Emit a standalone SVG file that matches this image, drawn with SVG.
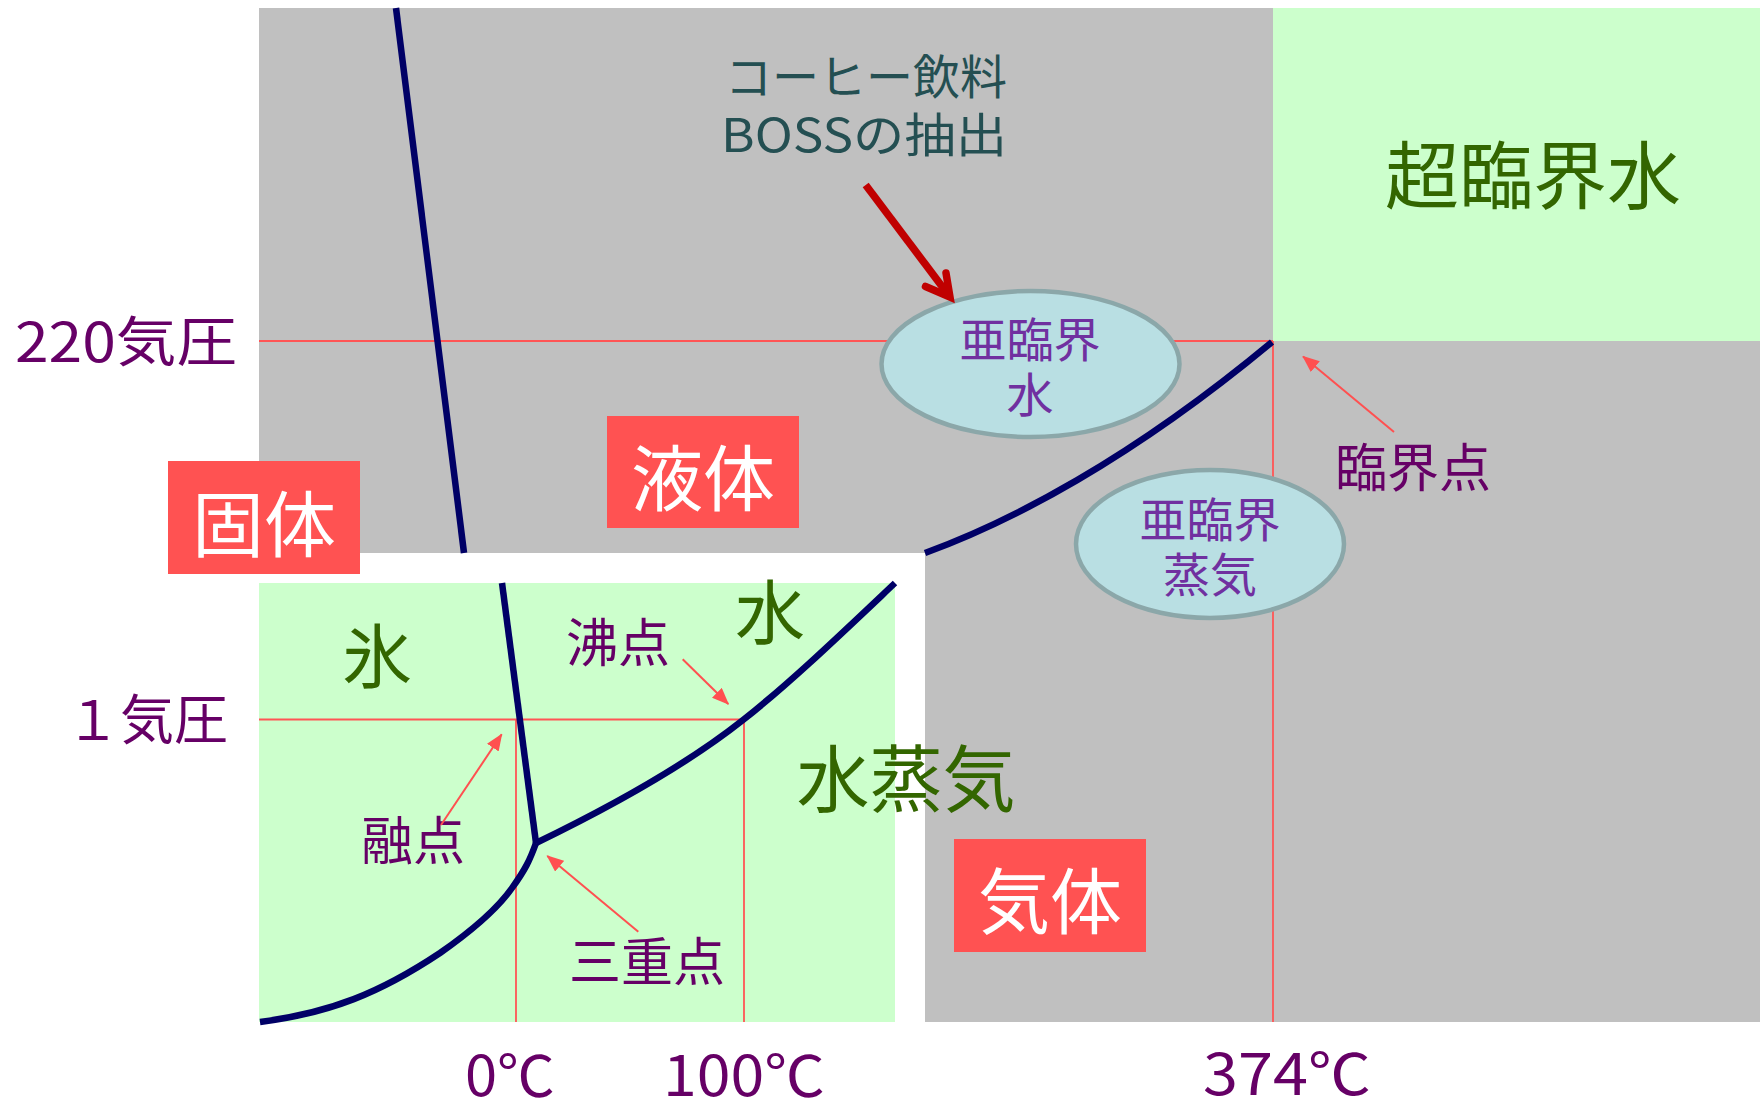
<svg xmlns="http://www.w3.org/2000/svg" width="1760" height="1109" viewBox="0 0 1760 1109">
<defs>
<style>
text{font-family:"Noto Sans CJK JP","Noto Sans",sans-serif;}
.axis{fill:#660066;}
.tag{fill:#660066;font-size:52px;text-anchor:middle;}
.phase{fill:#336600;text-anchor:middle;}
.box{fill:#FF5252;}
.boxt{fill:#FFFFFF;font-size:72px;text-anchor:middle;}
.ell{fill:#B9DFE3;stroke:#8BA7A9;stroke-width:4.5;}
.ellt{fill:#7030A0;font-size:47px;text-anchor:middle;}
.guide{stroke:#FF5555;stroke-width:1.8;fill:none;}
.curve{stroke:#000066;stroke-width:6.5;fill:none;stroke-linejoin:round;}
.thin{stroke:#FF5050;stroke-width:2;fill:none;marker-end:url(#ah);}
.coffee{fill:#244F52;font-size:47px;}
</style>
<marker id="ah" markerUnits="userSpaceOnUse" markerWidth="17" markerHeight="14" refX="16" refY="7" orient="auto">
<path d="M0,0 L17,7 L0,14 Z" fill="#FF5050"/>
</marker>
</defs>
<rect width="1760" height="1109" fill="#FFFFFF"/>
<g id="regions">
<rect x="259" y="8" width="1501" height="1014" fill="#C0C0C0"/>
<rect x="259" y="553" width="666" height="469" fill="#FFFFFF"/>
<rect x="259" y="583" width="636" height="439" fill="#CCFFCC"/>
<rect x="1273" y="8" width="487" height="333" fill="#CCFFCC"/>
</g>
<g id="guides">
<line class="guide" x1="259" y1="341" x2="1273" y2="341"/>
<line class="guide" x1="1273" y1="341" x2="1273" y2="1022"/>
<line class="guide" x1="259" y1="719.5" x2="744" y2="719.5"/>
<line class="guide" x1="516" y1="719.5" x2="516" y2="1022"/>
<line class="guide" x1="744" y1="719.5" x2="744" y2="1022"/>
</g>
<g id="curves">
<line class="curve" x1="396" y1="8" x2="464" y2="553"/>
<line class="curve" x1="502" y1="583" x2="536" y2="843"/>
<path class="curve" d="M260,1022 C330,1013 380,993 440,953 C480,925 500,905 512,888 C525,870 530,860 536,843"/>
<path class="curve" d="M536,843 C600,812 680,770 743,720 C790,683 840,635 895,583"/>
<path class="curve" d="M925,553 C1010,522 1130,460 1272,342"/>
</g>
<g id="ellipse-subcritical-water">
<ellipse class="ell" cx="1030.5" cy="364" rx="149" ry="73"/>
<text class="ellt" x="1030" y="357">亜臨界<tspan x="1030" dy="55">水</tspan></text>
</g>
<g id="ellipse-subcritical-steam">
<ellipse class="ell" cx="1210" cy="544" rx="134" ry="74"/>
<text class="ellt" x="1210" y="537">亜臨界<tspan x="1210" dy="55">蒸気</tspan></text>
</g>
<g id="box-solid">
<rect class="box" x="168" y="461" width="192" height="113"/>
<text class="boxt" x="264" y="551">固体</text>
</g>
<g id="box-liquid">
<rect class="box" x="607" y="416" width="192" height="112"/>
<text class="boxt" x="703" y="505">液体</text>
</g>
<g id="box-gas">
<rect class="box" x="954" y="839" width="192" height="113"/>
<text class="boxt" x="1050" y="928">気体</text>
</g>
<g id="label-supercritical">
<text class="phase" x="1533" y="203" font-size="74">超臨界水</text>
</g>
<g id="label-ice"><text class="phase" x="377" y="683" font-size="70">氷</text></g>
<g id="label-water"><text class="phase" x="770" y="639" font-size="70">水</text></g>
<g id="label-vapor"><text class="phase" x="906" y="806" font-size="73">水蒸気</text></g>
<g id="label-coffee">
<text class="coffee" x="866" y="94" text-anchor="middle">コーヒー飲料</text>
<text class="coffee" x="721" y="152" textLength="286" lengthAdjust="spacingAndGlyphs">BOSSの抽出</text>
</g>
<g id="label-critical"><text class="tag" x="1413" y="487">臨界点</text></g>
<g id="label-boiling"><text class="tag" x="618" y="662">沸点</text></g>
<g id="label-melting"><text class="tag" x="413" y="860">融点</text></g>
<g id="label-triple"><text class="tag" x="647" y="981">三重点</text></g>
<g id="axis-labels">
<text class="axis" x="15" y="362" font-size="54" textLength="222" lengthAdjust="spacingAndGlyphs">220気圧</text>
<text class="axis" x="66" y="740" font-size="54">１気圧</text>
<text class="axis" x="465" y="1096" font-size="56" textLength="90" lengthAdjust="spacingAndGlyphs">0℃</text>
<text class="axis" x="663" y="1096" font-size="56" textLength="162" lengthAdjust="spacingAndGlyphs">100℃</text>
<text class="axis" x="1203" y="1095" font-size="57" textLength="168" lengthAdjust="spacingAndGlyphs">374℃</text>
</g>
<g id="connectors">
<line x1="865.7" y1="185" x2="950" y2="297" stroke="#C00000" stroke-width="7.5"/>
<polyline points="925.5,286.5 950,297 946,273" fill="none" stroke="#C00000" stroke-width="7.5" stroke-linecap="round" stroke-linejoin="miter"/>
<line class="thin" x1="1394" y1="432" x2="1303" y2="356.5"/>
<line class="thin" x1="682.7" y1="659.3" x2="728.3" y2="704"/>
<line class="thin" x1="441" y1="825" x2="501.7" y2="734.3"/>
<line class="thin" x1="638.3" y1="931.7" x2="547.3" y2="856"/>
</g>
</svg>
